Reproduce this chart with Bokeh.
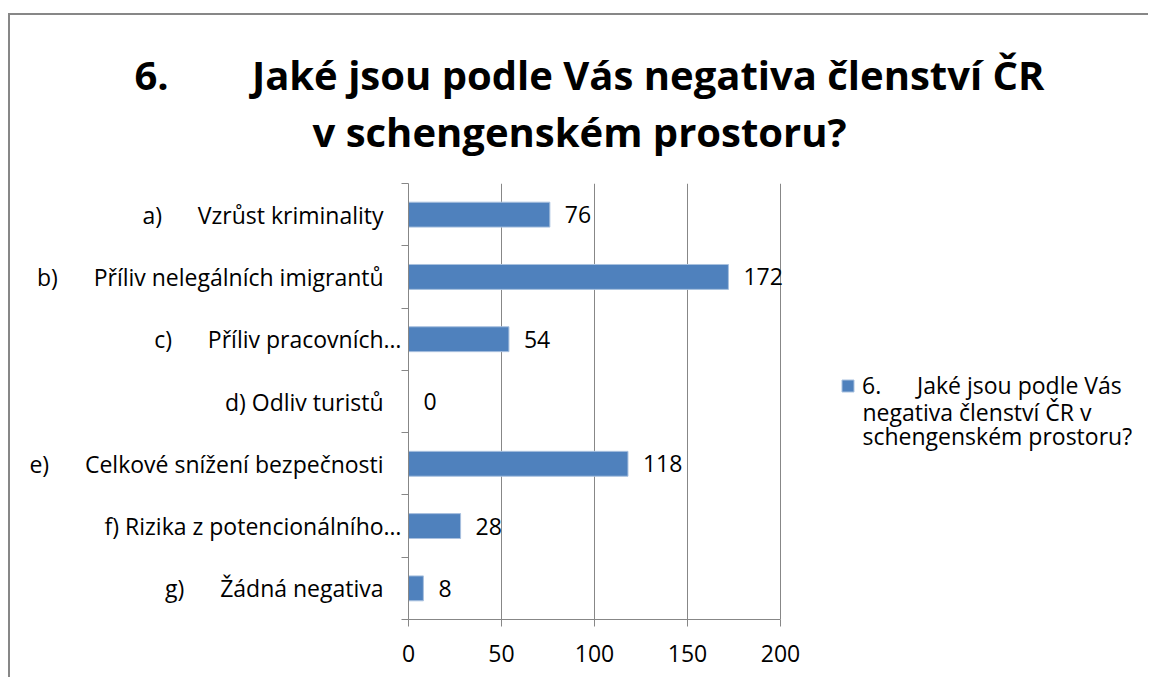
from bokeh.plotting import figure
from bokeh.models import (Range1d, FixedTicker, Title, Legend, LegendItem, ColumnDataSource,
                          LabelSet, Label)
from bokeh.core.properties import value
from bokeh.embed import file_html
from bokeh.resources import INLINE

NB = "\u00a0"
title_line1 = "6." + NB * 8 + "Jaké jsou podle Vás negativa členství ČR"
title_line2 = "v schengenském prostoru?"
categories = [
    "a)" + NB * 6 + "Vzrůst kriminality",
    "b)" + NB * 6 + "Příliv nelegálních imigrantů",
    "c)" + NB * 6 + "Příliv pracovních…",
    "d) Odliv turistů",
    "e)" + NB * 6 + "Celkové snížení bezpečnosti",
    "f) Rizika z potencionálního…",
    "g)" + NB * 6 + "Žádná negativa",
]
values = [76, 172, 54, 0, 118, 28, 8]
series_name_lines = ["6." + NB * 6 + "Jaké jsou podle Vás",
                     "negativa členství ČR v",
                     "schengenském prostoru?"]
x_ticks = [0, 50, 100, 150, 200]

FONT = "Open Sans"
GRAY = "#878787"
BLUE = "#4F81BD"

W, H = 1140, 664
LEFT, RIGHT, TOP, BOTTOM = 398, 2, 168, 60
AXIS_PX = 372  # pixel length of the value axis (0..200)
frame_w = W - LEFT - RIGHT
x_end = x_ticks[-1] * frame_w / AXIS_PX

n = len(categories)
ypos = [n - i - 0.5 for i in range(n)]
labels_disp = [c if c.endswith("…") else c + NB * 3 for c in categories]

src = ColumnDataSource(dict(y=ypos, v=values, lab=[str(v) for v in values]))

p = figure(width=W, height=H, output_backend="svg", toolbar_location=None,
           x_range=Range1d(0, x_end), y_range=Range1d(0, n),
           min_border_left=LEFT, min_border_right=RIGHT, min_border_top=TOP,
           min_border_bottom=BOTTOM)
p.margin = (13, 0, 0, 8)
p.styles = {"border-left": "2px solid " + GRAY, "border-top": "2px solid " + GRAY}
p.outline_line_color = None
p.background_fill_color = "white"

r = p.hbar(y="y", right="v", left=0, height=0.4, source=src, fill_color=BLUE,
           line_color="#A9C1DF", line_width=1)

labels = LabelSet(x="v", y="y", text="lab", source=src, x_offset=15, text_baseline="middle",
                  text_font=value(FONT), text_font_size="23px", text_color="black")
p.add_layout(labels)

# axes
xa = p.xaxis[0]
xa.ticker = FixedTicker(ticks=x_ticks, minor_ticks=[])
xa.bounds = (x_ticks[0], x_ticks[-1])
xa.axis_line_color = GRAY
xa.major_tick_line_color = GRAY
xa.major_tick_out = 7
xa.major_tick_in = 0
xa.minor_tick_line_color = None
xa.major_label_text_font = FONT
xa.major_label_text_font_size = "23px"
xa.major_label_text_color = "black"
xa.major_label_standoff = 18

ya = p.yaxis[0]
ya.ticker = FixedTicker(ticks=ypos, minor_ticks=list(range(n + 1)))
ya.major_label_overrides = {y: l for y, l in zip(ypos, labels_disp)}
ya.axis_line_color = GRAY
ya.major_tick_line_color = None
ya.major_tick_out = 0
ya.major_tick_in = 0
ya.minor_tick_line_color = GRAY
ya.minor_tick_out = 7
ya.minor_tick_in = 0
ya.major_label_text_font = FONT
ya.major_label_text_font_size = "23px"
ya.major_label_text_color = "black"
ya.major_label_standoff = 0

p.xgrid.ticker = FixedTicker(ticks=x_ticks)
p.xgrid.grid_line_color = GRAY
p.ygrid.grid_line_color = None

# titles (spacer first, then line 2, then line 1 outermost); left-aligned from frame left
spacer = Title(text=NB, text_font_size="10px", standoff=12)
t2 = Title(text=title_line2, align="left", offset=-96, text_font=FONT, text_font_size="40px",
           text_font_style="bold", text_color="black", standoff=0)
t1 = Title(text=title_line1, align="left", offset=-274, text_font=FONT, text_font_size="40px",
           text_font_style="bold", text_color="black", standoff=0)
p.add_layout(spacer, "above")
p.add_layout(t2, "above")
p.add_layout(t1, "above")

# legend: first line with the swatch, wrapped continuation lines below it
legend = Legend(items=[LegendItem(label=series_name_lines[0], renderers=[r])],
                location=(432, 218),
                border_line_color=None, background_fill_alpha=0, padding=0, margin=0,
                glyph_width=15, glyph_height=15, label_standoff=7,
                label_text_font=FONT, label_text_font_size="23px", label_text_color="black")
p.add_layout(legend, "center")
for k, line in enumerate(series_name_lines[1:]):
    p.add_layout(Label(x=x_ticks[-1], y=n / 2, x_offset=82, y_offset=-10 - 24.5 * k,
                       text=line, text_baseline="middle", text_font=FONT,
                       text_font_size="23px", text_color="black"))

open("out.html", "w").write(file_html(p, INLINE))
